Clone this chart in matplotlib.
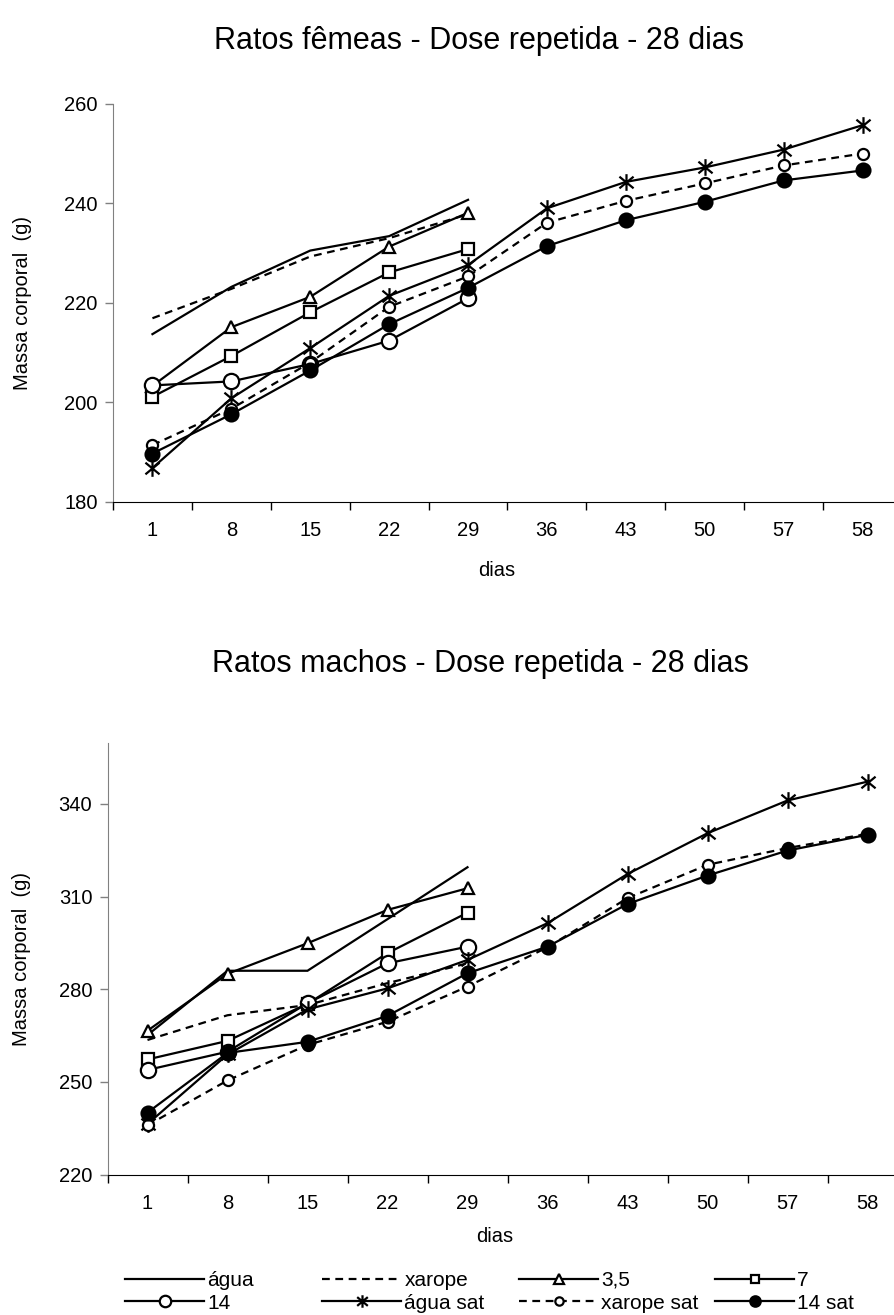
import matplotlib
matplotlib.use("Agg")
import matplotlib.pyplot as plt
from matplotlib.path import Path
from matplotlib.lines import Line2D
import numpy as np

plt.rcParams['font.family'] = ['Liberation Sans', 'DejaVu Sans']

# ---------------- data ----------------
days = ["1", "8", "15", "22", "29", "36", "43", "50", "57", "58"]

# Female rats (Ratos fêmeas)
agua_f      = [213.7, 223.2, 230.5, 233.4, 240.7]
xarope_f    = [216.9, 222.8, 229.3, 233.0, 237.8]
d35_f       = [203.3, 215.1, 221.2, 231.3, 238.1]
d7_f        = [201.1, 209.3, 218.1, 226.1, 230.8]
d14_f       = [203.4, 204.2, 207.7, 212.4, 220.9]
aguasat_f   = [186.8, 200.8, 210.9, 221.4, 227.6, 239.0, 244.3, 247.2, 250.8, 255.7]
xaropesat_f = [191.4, 198.7, 208.0, 219.2, 225.3, 236.1, 240.5, 244.0, 247.6, 250.0]
d14sat_f    = [189.7, 197.6, 206.4, 215.7, 223.0, 231.4, 236.6, 240.3, 244.6, 246.6]

# Male rats (Ratos machos)
agua_m      = [265.2, 286.0, 286.0, 302.7, 319.5]
xarope_m    = [263.6, 271.6, 274.9, 282.0, 288.4]
d35_m       = [266.6, 285.0, 294.9, 305.7, 312.7]
d7_m        = [257.3, 263.3, 275.3, 291.7, 304.8]
d14_m       = [253.9, 259.8, 275.5, 288.4, 293.8]
aguasat_m   = [236.4, 258.9, 273.5, 280.3, 289.5, 301.4, 317.3, 330.5, 341.1, 347.2]
xaropesat_m = [236.0, 250.5, 262.0, 269.5, 280.9, 293.6, 309.5, 320.3, 325.7, 330.3]
d14sat_m    = [240.1, 259.4, 263.0, 271.4, 285.2, 293.8, 307.6, 316.8, 324.9, 330.0]

labels = ["água", "xarope", "3,5", "7", "14", "água sat", "xarope sat", "14 sat"]

# ---------------- styles ----------------
ast = Path([(0, 1), (0, -1), (-0.85, 0.7), (0.85, -0.7), (-0.85, -0.7), (0.85, 0.7)],
           [Path.MOVETO, Path.LINETO, Path.MOVETO, Path.LINETO, Path.MOVETO, Path.LINETO])
LW = 1.6
DASH = (3.5, 2.5)
styles = [
    dict(ls='-', marker=None),
    dict(ls=(0, DASH), marker=None),
    dict(ls='-', marker='^', ms=9, mfc='white'),
    dict(ls='-', marker='s', ms=8, mfc='white'),
    dict(ls='-', marker='o', ms=11, mfc='white'),
    dict(ls='-', marker=ast, ms=12, mfc='none'),
    dict(ls=(0, DASH), marker='o', ms=8, mfc='white'),
    dict(ls='-', marker='o', ms=10, mfc='black'),
]

W, H = 894, 1315
fig = plt.figure(figsize=(W / 100, H / 100), dpi=100)

def px_axes(left, right, top, bottom):
    return fig.add_axes([left / W, 1 - bottom / H, (right - left) / W, (bottom - top) / H])

TICKFS = 14.5

def draw(ax, series, ylim, yticks, xlab_xy, ylab_x):
    x = np.arange(len(days))
    for s, st in zip(series, styles):
        ax.plot(x[:len(s)], s, color='black', lw=LW, ls=st['ls'], marker=st['marker'],
                ms=st.get('ms', 0), mfc=st.get('mfc', 'black'), mec='black', mew=1.6,
                solid_joinstyle='miter', clip_on=False)
    ax.set_xlim(-0.5, len(days) - 0.5)
    ax.set_ylim(*ylim)
    ax.set_yticks(yticks)
    ax.set_yticklabels([str(v) for v in yticks], fontsize=TICKFS)
    ax.set_xticks(x)
    ax.set_xticklabels(days, fontsize=TICKFS)
    ax.set_xticks(np.arange(len(days) + 1) - 0.5, minor=True)
    ax.tick_params(axis='x', which='major', length=0, pad=14)
    ax.tick_params(axis='x', which='minor', length=6, width=1, color='black', direction='out')
    ax.tick_params(axis='y', length=6, width=1, color='#808080', direction='out', pad=5)
    for sp in ['top', 'right']:
        ax.spines[sp].set_visible(False)
    ax.spines['left'].set_color('#808080')
    ax.spines['bottom'].set_color('black')
    ax.set_xlabel('dias', fontsize=TICKFS)
    ax.xaxis.set_label_coords(*xlab_xy)
    ax.xaxis.label.set_va('center')
    ax.set_ylabel('Massa corporal  (g)', fontsize=TICKFS)
    ax.yaxis.set_label_coords(ylab_x, 0.5)
    ax.yaxis.label.set_va('center')

# top chart
ax1 = px_axes(113, 902, 103.8, 501.8)
draw(ax1, [agua_f, xarope_f, d35_f, d7_f, d14_f, aguasat_f, xaropesat_f, d14sat_f],
     (180, 260), [180, 200, 220, 240, 260],
     ((497 - 113) / 789, -(570 - 501.8) / 398), (22 - 113) / 789)

# bottom chart
ax2 = px_axes(107.5, 907.5, 742.7, 1174.7)
draw(ax2, [agua_m, xarope_m, d35_m, d7_m, d14_m, aguasat_m, xaropesat_m, d14sat_m],
     (220, 359.8), [220, 250, 280, 310, 340],
     ((495 - 107.5) / 800, -(1236.7 - 1174.7) / 432), (22 - 107.5) / 800)

fig.text(479 / W, 1 - 41 / H, 'Ratos fêmeas - Dose repetida - 28 dias', fontsize=22,
         ha='center', va='center')
fig.text(480 / W, 1 - 664 / H, 'Ratos machos - Dose repetida - 28 dias', fontsize=22,
         ha='center', va='center')

# legend: 4 columns x 2 rows
handles = []
for st in styles:
    handles.append(Line2D([], [], color='black', lw=LW, ls=st['ls'], marker=st['marker'],
                          ms=(st.get('ms', 0) * 0.75), mfc=st.get('mfc', 'black'),
                          mec='black', mew=1.6))
col_x = [125, 322, 519, 715]
for c in range(4):
    leg = fig.legend([handles[c], handles[c + 4]], [labels[c], labels[c + 4]],
                     loc='upper left', bbox_to_anchor=(col_x[c] / W, 1 - 1271 / H),
                     frameon=False, fontsize=15, handlelength=3.8, handletextpad=0.15,
                     borderpad=0, borderaxespad=0, labelspacing=0.18)

fig.savefig('out.png', dpi=100)
